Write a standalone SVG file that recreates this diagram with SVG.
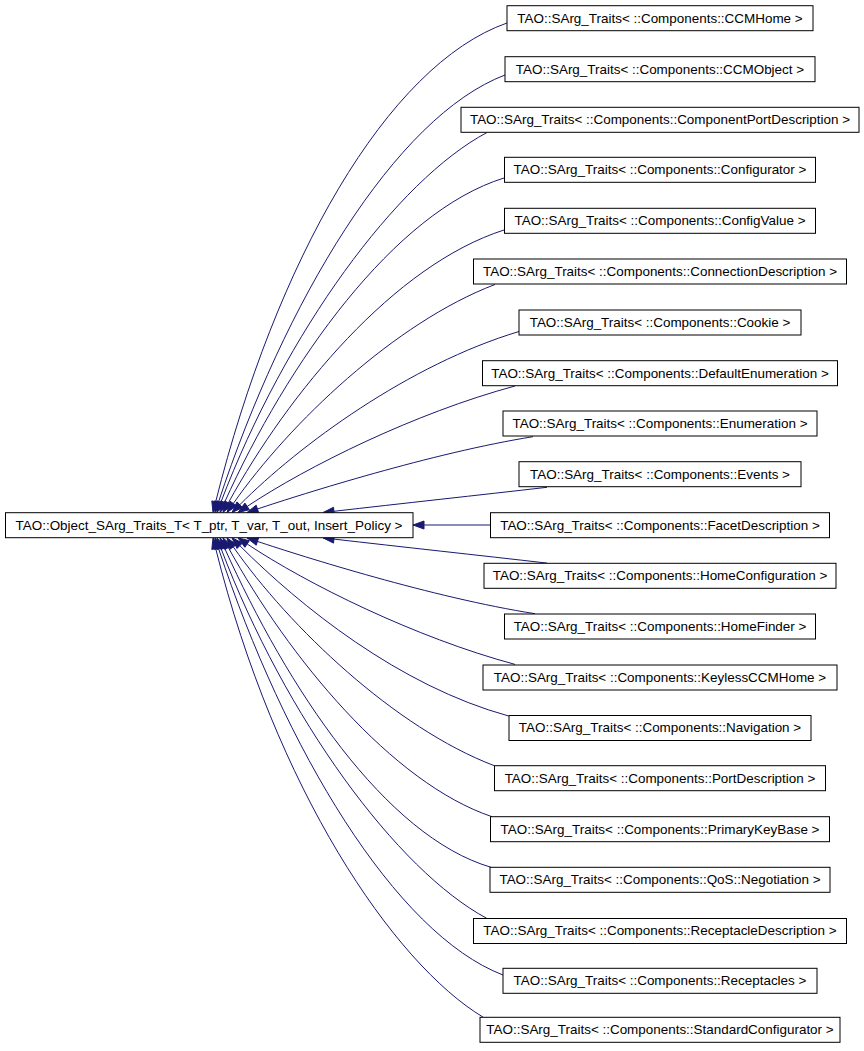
<svg xmlns="http://www.w3.org/2000/svg" width="864" height="1051" viewBox="0 0 864 1051">
<style>
.box{fill:#ffffff;stroke:#000000;stroke-width:1}
.lbl{font-family:"Liberation Sans",Arial,Helvetica,sans-serif;font-size:13.45px;fill:#000000;text-anchor:middle}
.edge{fill:none;stroke:#191970;stroke-width:1}
.head{fill:#191970;stroke:#191970;stroke-width:1}
</style>
<rect width="864" height="1051" fill="#ffffff"/>
<g id="edges">
<path class="edge" d="M507,23 C387,65 275.7,261.8 215.7,501.8"/>
<polygon class="head" points="213,512.5 219.6,502.8 211.8,500.9"/>
<path class="edge" d="M505,75 C395,116.8 284.5,302 218.5,502"/>
<polygon class="head" points="215,512.5 222.3,503.3 214.7,500.8"/>
<path class="edge" d="M487,132.5 C397,180.2 285.5,332.2 220.9,502.2"/>
<polygon class="head" points="217,512.5 224.7,503.6 217.2,500.8"/>
<path class="edge" d="M504,178 C394,212.1 287.5,362.5 224.5,502.5"/>
<polygon class="head" points="220,512.5 228.2,504.1 220.9,500.8"/>
<path class="edge" d="M504,230 C394,265.2 288.8,392.9 228.3,502.9"/>
<polygon class="head" points="223,512.5 231.8,504.8 224.8,500.9"/>
<path class="edge" d="M495,284.5 C395,322.5 289.3,423.5 233.3,503.5"/>
<polygon class="head" points="227,512.5 236.6,505.8 230,501.2"/>
<path class="edge" d="M519,331.5 C409,364.5 299.8,444.7 239.8,504.7"/>
<polygon class="head" points="232,512.5 242.6,507.6 237,501.9"/>
<path class="edge" d="M515,386 C415,413 307.2,466.4 247.2,506.4"/>
<polygon class="head" points="238,512.5 249.4,509.7 244.9,503.1"/>
<path class="edge" d="M533,436.7 C433,452.7 302.4,494 257.4,509"/>
<polygon class="head" points="247,512.5 258.7,512.8 256.2,505.2"/>
<path class="edge" d="M547,487.3 C480,495 400,503.7 333.9,511.3"/>
<polygon class="head" points="323,512.5 334.4,515.3 333.5,507.3"/>
<path class="edge" d="M490.5,525 L424,525"/>
<polygon class="head" points="413,525 424,521 424,529"/>
<path class="edge" d="M547,563.1 C480,555.4 400,546.7 333.9,539.1"/>
<polygon class="head" points="323,537.9 334.4,535.2 333.5,543.1"/>
<path class="edge" d="M535,613.7 C433,597.7 302.4,556.4 257.4,541.4"/>
<polygon class="head" points="247,537.9 258.7,537.6 256.2,545.2"/>
<path class="edge" d="M515,664.4 C415,637.4 307.2,584 247.2,544"/>
<polygon class="head" points="238,537.9 249.4,540.7 244.9,547.3"/>
<path class="edge" d="M508.7,716 C399,686 299.8,605.7 239.8,545.7"/>
<polygon class="head" points="232,537.9 242.6,542.9 237,548.5"/>
<path class="edge" d="M494.3,765.7 C395,727.9 289.3,626.9 233.3,546.9"/>
<polygon class="head" points="227,537.9 236.6,544.6 230,549.2"/>
<path class="edge" d="M492,816.7 C392,783 288.8,657.5 228.3,547.5"/>
<polygon class="head" points="223,537.9 231.8,545.6 224.8,549.5"/>
<path class="edge" d="M491,867.3 C385,836 287.5,687.9 224.5,547.9"/>
<polygon class="head" points="220,537.9 228.2,546.3 220.9,549.6"/>
<path class="edge" d="M486.7,918.3 C397,870.2 285.5,718.2 220.9,548.2"/>
<polygon class="head" points="217,537.9 224.7,546.8 217.2,549.6"/>
<path class="edge" d="M503,975 C395,933.6 284.5,748.4 218.5,548.4"/>
<polygon class="head" points="215,537.9 222.3,547.1 214.7,549.6"/>
<path class="edge" d="M483.3,1017.3 C393,963 275.7,788.6 215.7,548.6"/>
<polygon class="head" points="213,537.9 219.6,547.6 211.8,549.5"/>
</g>
<g id="node_base">
<rect class="box" x="5.5" y="512.7" width="407.5" height="25"/>
<text class="lbl" x="209" y="529.7">TAO::Object_SArg_Traits_T&lt; T_ptr, T_var, T_out, Insert_Policy &gt;</text>
</g>
<g id="node_ccmhome"><rect class="box" x="507" y="5.7" width="306" height="25"/><text class="lbl" x="660" y="22.5">TAO::SArg_Traits&lt; ::Components::CCMHome &gt;</text></g>
<g id="node_ccmobject"><rect class="box" x="505" y="56.7" width="310" height="25"/><text class="lbl" x="660" y="73.5">TAO::SArg_Traits&lt; ::Components::CCMObject &gt;</text></g>
<g id="node_componentportdescription"><rect class="box" x="461" y="107.3" width="398" height="25"/><text class="lbl" x="660" y="124.1">TAO::SArg_Traits&lt; ::Components::ComponentPortDescription &gt;</text></g>
<g id="node_configurator"><rect class="box" x="504.5" y="157.3" width="311" height="25"/><text class="lbl" x="660" y="174.1">TAO::SArg_Traits&lt; ::Components::Configurator &gt;</text></g>
<g id="node_configvalue"><rect class="box" x="504.5" y="208.3" width="311" height="25"/><text class="lbl" x="660" y="225.1">TAO::SArg_Traits&lt; ::Components::ConfigValue &gt;</text></g>
<g id="node_connectiondescription"><rect class="box" x="473.5" y="259" width="373" height="25"/><text class="lbl" x="660" y="275.8">TAO::SArg_Traits&lt; ::Components::ConnectionDescription &gt;</text></g>
<g id="node_cookie"><rect class="box" x="519" y="310" width="282" height="25"/><text class="lbl" x="660" y="326.8">TAO::SArg_Traits&lt; ::Components::Cookie &gt;</text></g>
<g id="node_defaultenumeration"><rect class="box" x="482.5" y="360.7" width="355" height="25"/><text class="lbl" x="660" y="377.5">TAO::SArg_Traits&lt; ::Components::DefaultEnumeration &gt;</text></g>
<g id="node_enumeration"><rect class="box" x="503" y="411" width="314" height="25"/><text class="lbl" x="660" y="427.8">TAO::SArg_Traits&lt; ::Components::Enumeration &gt;</text></g>
<g id="node_events"><rect class="box" x="519" y="461.7" width="282" height="25"/><text class="lbl" x="660" y="478.5">TAO::SArg_Traits&lt; ::Components::Events &gt;</text></g>
<g id="node_facetdescription"><rect class="box" x="490.5" y="512.7" width="339" height="25"/><text class="lbl" x="660" y="529.5">TAO::SArg_Traits&lt; ::Components::FacetDescription &gt;</text></g>
<g id="node_homeconfiguration"><rect class="box" x="484" y="563.3" width="352" height="25"/><text class="lbl" x="660" y="580.1">TAO::SArg_Traits&lt; ::Components::HomeConfiguration &gt;</text></g>
<g id="node_homefinder"><rect class="box" x="504.5" y="614" width="311" height="25"/><text class="lbl" x="660" y="630.8">TAO::SArg_Traits&lt; ::Components::HomeFinder &gt;</text></g>
<g id="node_keylessccmhome"><rect class="box" x="483" y="665" width="354" height="25"/><text class="lbl" x="660" y="681.8">TAO::SArg_Traits&lt; ::Components::KeylessCCMHome &gt;</text></g>
<g id="node_navigation"><rect class="box" x="509" y="715.5" width="302" height="25"/><text class="lbl" x="660" y="732.3">TAO::SArg_Traits&lt; ::Components::Navigation &gt;</text></g>
<g id="node_portdescription"><rect class="box" x="494.5" y="765.7" width="331" height="25"/><text class="lbl" x="660" y="782.5">TAO::SArg_Traits&lt; ::Components::PortDescription &gt;</text></g>
<g id="node_primarykeybase"><rect class="box" x="490.5" y="816.7" width="339" height="25"/><text class="lbl" x="660" y="833.5">TAO::SArg_Traits&lt; ::Components::PrimaryKeyBase &gt;</text></g>
<g id="node_qosnegotiation"><rect class="box" x="490" y="867.3" width="340" height="25"/><text class="lbl" x="660" y="884.1">TAO::SArg_Traits&lt; ::Components::QoS::Negotiation &gt;</text></g>
<g id="node_receptacledescription"><rect class="box" x="473.5" y="918.5" width="373" height="25"/><text class="lbl" x="660" y="935.3">TAO::SArg_Traits&lt; ::Components::ReceptacleDescription &gt;</text></g>
<g id="node_receptacles"><rect class="box" x="503" y="968.3" width="314" height="25"/><text class="lbl" x="660" y="985.1">TAO::SArg_Traits&lt; ::Components::Receptacles &gt;</text></g>
<g id="node_standardconfigurator"><rect class="box" x="480" y="1017.3" width="360" height="25"/><text class="lbl" x="660" y="1034.1">TAO::SArg_Traits&lt; ::Components::StandardConfigurator &gt;</text></g>
</svg>
